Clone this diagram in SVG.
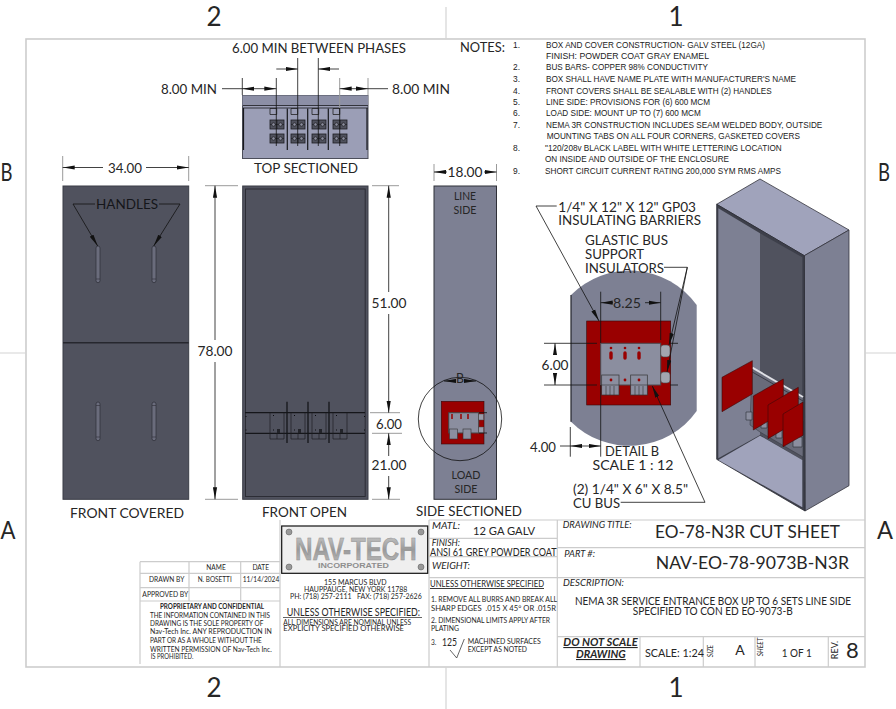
<svg xmlns="http://www.w3.org/2000/svg" width="896" height="709" viewBox="0 0 896 709">
<style>
text{font-family:"Lato","Open Sans","Liberation Sans",sans-serif;fill:#262626}
.l{font-size:14px}.m{font-size:11px}.s{font-size:9px}.xs{font-size:6.6px}.n{font-family:"Liberation Sans",Arial,sans-serif;font-size:8.4px;fill:#222}
.i{font-style:italic}.c{text-anchor:middle}
.dim{stroke:#111;stroke-width:.8;fill:none}
.arr{marker-end:url(#a)}
.ext{stroke:#9a9a9a;stroke-width:1;fill:none}
.bk{stroke:#111;stroke-width:.8;fill:none}
.grid{stroke:#ccc;stroke-width:1.2;fill:none}
.hv{fill:#50525e;stroke:#3a3c46;stroke-width:1}
.hd{fill:#6a6c7c;stroke:#2d2e36;stroke-width:.7}
.red{fill:#990000;stroke:#3a0808;stroke-width:.6}
</style>
<defs>
<marker id="a" viewBox="0 0 12 5" refX="12" refY="2.5" markerWidth="12" markerHeight="5" markerUnits="userSpaceOnUse" orient="auto"><path d="M0 .4L12 2.500L0 4.600z" fill="#111"/></marker>
<linearGradient id="sil" x1="0" y1="0" x2="0" y2="1"><stop offset="0" stop-color="#cfcfcf"/><stop offset=".5" stop-color="#9a9a9a"/><stop offset="1" stop-color="#c0c0c0"/></linearGradient>
<g id="lug"><rect x="0" y="0" width="14" height="9" fill="#50525e" stroke="#1c1d22" stroke-width=".8"/><path d="M7 0V9M0 4.500H14" stroke="#1c1d22" stroke-width=".7"/><circle cx="3.500" cy="4.500" r="1.700" fill="#8b8e9f" stroke="#111" stroke-width=".6"/><circle cx="10.500" cy="4.500" r="1.700" fill="#8b8e9f" stroke="#111" stroke-width=".6"/></g>
</defs>
<rect width="896" height="709" fill="#fff"/>
<g id="sheet-frame">
<rect x="26" y="39" width="839" height="628" fill="none" stroke="#cdcdcd" stroke-width="1.6"/>
<path d="M446 7V39M446 667V709M0 353H26M865 353H896" stroke="#d4d4d4" stroke-width="1.2" fill="none"/>
<text x="214" y="26" font-size="26" class="c">2</text><text x="676" y="26" font-size="26" class="c">1</text>
<text x="214" y="697" font-size="26" class="c">2</text><text x="676" y="697" font-size="26" class="c">1</text>
<text x="0.500" y="181" font-size="25" textLength="12" lengthAdjust="spacingAndGlyphs">B</text><text x="878" y="181" font-size="25" textLength="12" lengthAdjust="spacingAndGlyphs">B</text>
<text x="0.500" y="539" font-size="25" textLength="15" lengthAdjust="spacingAndGlyphs">A</text><text x="877" y="539" font-size="25" textLength="16" lengthAdjust="spacingAndGlyphs">A</text>
</g>
<g id="view-top-sectioned">
<rect x="242.500" y="95.500" width="125.500" height="63" fill="#9b9eb6" stroke="#4c4e5a"/>
<rect x="242.500" y="95.500" width="125.500" height="10" fill="#8c8fa6" stroke="none"/>
<path d="M243 105.500H368M243 108H368" stroke="#33343c" fill="none"/>
<path d="M243.500 108V150M367 108V150M287.300 108.500V150M307.700 108.500V150M328.300 108.500V150" stroke="#17181c" stroke-width="1.200" fill="none"/>
<path d="M270 108.500h6.700v6h-6.700zM291 108.500h6.700v6h-6.700zM312 108.500h6.700v6h-6.700zM333 108.500h6.700v6h-6.700z" fill="none" stroke="#222" stroke-width=".8"/>
<use href="#lug" x="270" y="120"/><use href="#lug" x="270" y="134"/><use href="#lug" x="291" y="120"/><use href="#lug" x="291" y="134"/><use href="#lug" x="312" y="120"/><use href="#lug" x="312" y="134"/><use href="#lug" x="333" y="120"/><use href="#lug" x="333" y="134"/>
<text x="254" y="173" class="l" textLength="104" lengthAdjust="spacingAndGlyphs">TOP SECTIONED</text>
</g>
<g id="view-front-covered">
<rect x="63" y="186" width="125.700" height="313.300" class="hv"/>
<path d="M63 342.700H188.700" stroke="#26272e" stroke-width="1.400"/>
<rect x="96" y="246" width="4" height="36.700" rx="2" class="hd"/><rect x="152" y="246" width="4" height="36.700" rx="2" class="hd"/>
<rect x="96" y="402" width="4" height="38.700" rx="2" class="hd"/><rect x="152" y="402" width="4" height="38.700" rx="2" class="hd"/>
<path d="M96 279H100M152 279H156M96 405.500H100M152 405.500H156M96 437H100M152 437H156" stroke="#2d2e36" stroke-width=".6"/>
<text x="70" y="518" class="l" textLength="114" lengthAdjust="spacingAndGlyphs">FRONT COVERED</text>
<text x="96" y="209" class="l" textLength="62" lengthAdjust="spacingAndGlyphs" style="fill:#15161a">HANDLES</text>
</g>
<g id="view-front-open">
<rect x="242.700" y="186" width="125.300" height="313.300" class="hv"/>
<rect x="245.500" y="189" width="119.700" height="307.500" fill="none" stroke="#2c2d35" stroke-width="1"/>
<path d="M245 412.700H365M245 433.300H365" stroke="#15161a" stroke-width="1.300" fill="none"/>
<path d="M287 401.700V443M308 401.700V443M329 401.700V443" stroke="#15161a" stroke-width="1.300" fill="none"/>
<path d="M270 412.700V439H284V412.700M277 433V439M291 412.700V439H305V412.700M298 433V439M312 412.700V439H326V412.700M319 433V439M333 412.700V439H347V412.700M340 433V439" fill="none" stroke="#1c1d22" stroke-width=".7"/>
<path d="M277 429h3v4h-3zM298 429h3v4h-3zM319 429h3v4h-3zM340 429h3v4h-3z" fill="#23242a"/>
<path d="M273 415h1v1h-1zM273 429.500h1v1h-1zM294 415h1v1h-1zM294 429.500h1v1h-1zM315 415h1v1h-1zM315 429.500h1v1h-1zM336 415h1v1h-1zM336 429.500h1v1h-1zM245.500 416h1v1h-1zM245.500 429.500h1v1h-1zM364 416h1v1h-1zM364 429.500h1v1h-1z" fill="#0c0c10"/>
<text x="262" y="517" class="l" textLength="85" lengthAdjust="spacingAndGlyphs">FRONT OPEN</text>
</g>
<g id="view-side-sectioned">
<rect x="434" y="186" width="62.500" height="313.300" fill="#7d8093" stroke="#2f3038" stroke-width="1"/>
<text x="465" y="200" class="m c" textLength="22" lengthAdjust="spacingAndGlyphs">LINE</text>
<text x="465" y="214" class="m c" textLength="23" lengthAdjust="spacingAndGlyphs">SIDE</text>
<text x="466" y="479" class="m c" textLength="29" lengthAdjust="spacingAndGlyphs">LOAD</text>
<text x="466" y="493" class="m c" textLength="23" lengthAdjust="spacingAndGlyphs">SIDE</text>
<rect x="441.300" y="401.300" width="42.700" height="42.700" class="red"/>
<rect x="448.700" y="412.700" width="30" height="20.300" fill="#8b8e9f" stroke="#444"/>
<path d="M452 414v5M461 414v5M468 414v5" stroke="#990000" stroke-width="1.500" fill="none"/>
<rect x="449.500" y="429" width="8" height="10" fill="#8b8e9f" stroke="#333" stroke-width=".6"/><rect x="463" y="429" width="8" height="10" fill="#8b8e9f" stroke="#333" stroke-width=".6"/>
<rect x="478.700" y="414" width="5" height="6" fill="#9a9cab" stroke="#444" stroke-width=".5"/><rect x="478.700" y="427" width="5" height="6" fill="#9a9cab" stroke="#444" stroke-width=".5"/>
<path d="M479 412.700H487M479 433H487" stroke="#111" stroke-width=".8"/>
<circle cx="460" cy="419" r="41.700" fill="none" stroke="#111" stroke-width=".8"/>
<text x="416" y="516" class="l" textLength="106" lengthAdjust="spacingAndGlyphs">SIDE SECTIONED</text>
<text x="460" y="383" class="l c" textLength="8" lengthAdjust="spacingAndGlyphs">B</text>
</g>
<g id="view-detail-b">
<path d="M571 295A82.500 82.500 0 0 1 696.700 305V411A82.500 82.500 0 0 1 571 421.700Z" fill="#7d8093"/>
<path d="M571 295V421.700" stroke="#22232a" stroke-width="1.200"/>
<rect x="586.700" y="321" width="84" height="84" fill="#990000" stroke="#3a0808" stroke-width=".6"/>
<rect x="600.700" y="343.300" width="60" height="41.700" fill="#8b8e9f" stroke="#4a4a50"/>
<path d="M611 353V358M625 353V358M639 353V358" stroke="#990000" stroke-width="3.400" stroke-linecap="round"/>
<circle cx="611" cy="348" r="1.300" fill="#990000"/><circle cx="625" cy="348" r="1.300" fill="#990000"/><circle cx="639" cy="348" r="1.300" fill="#990000"/>
<rect x="601.700" y="375" width="17.300" height="20" fill="#8b8e9f" stroke="#333" stroke-width=".7"/><rect x="630.700" y="375" width="16.600" height="20" fill="#8b8e9f" stroke="#333" stroke-width=".7"/>
<path d="M601.700 385H619M630.700 385H647.300M606 386V395M610 386V395M614 386V395M635 386V395M639 386V395M643 386V395" stroke="#333" stroke-width=".6"/>
<circle cx="611" cy="380" r="1.400" fill="#990000"/><circle cx="625" cy="380" r="1.400" fill="#990000"/><circle cx="639" cy="380" r="1.400" fill="#990000"/>
<rect x="660.700" y="345" width="9.300" height="12" rx="3" fill="#a3a6b0" stroke="#444" stroke-width=".6"/>
<rect x="660.700" y="372" width="9.300" height="11" rx="3" fill="#a3a6b0" stroke="#444" stroke-width=".6"/>
<text x="558.300" y="211.500" class="l" textLength="137.700" lengthAdjust="spacingAndGlyphs">1/4" X 12" X 12" GP03</text>
<text x="558.300" y="225" class="l" textLength="142.700" lengthAdjust="spacingAndGlyphs">INSULATING BARRIERS</text>
<text x="585" y="245" class="l" textLength="83" lengthAdjust="spacingAndGlyphs">GLASTIC BUS</text>
<text x="585" y="259" class="l" textLength="59" lengthAdjust="spacingAndGlyphs">SUPPORT</text>
<text x="585" y="273" class="l" textLength="79" lengthAdjust="spacingAndGlyphs">INSULATORS</text>
<text x="632" y="456" class="l c" textLength="54" lengthAdjust="spacingAndGlyphs">DETAIL B</text>
<text x="633" y="470" class="l c" textLength="81" lengthAdjust="spacingAndGlyphs">SCALE 1 : 12</text>
<text x="573" y="494" class="l" textLength="115" lengthAdjust="spacingAndGlyphs">(2) 1/4" X 6" X 8.5"</text>
<text x="573" y="508" class="l" textLength="47" lengthAdjust="spacingAndGlyphs">CU BUS</text>
</g>
<g id="view-isometric">
<path d="M716.700 204.300L760 179L849 230L804.300 255.700Z" fill="#a0a3bb" stroke="#33343c" stroke-width=".8"/>
<path d="M804.300 255.700L849 230V485.700L805 511Z" fill="#7d8093" stroke="#33343c" stroke-width=".8"/>
<path d="M716.700 204.300L804.300 255.700L805 511L716.700 459.300Z" fill="#3d3f4a" stroke="#2a2b33" stroke-width=".8"/>
<path d="M718.300 208.300L760 233.300V435L718.300 458.300Z" fill="#7d8093"/>
<path d="M760 233.300L802.300 257.300V460L760 435Z" fill="#50525e"/>
<path d="M718.300 460L760 435.700L802.300 460V507.300Z" fill="#a0a3bb"/>
<path d="M752 368L803 397V457L760 432L750 425Z" fill="#696b7a" stroke="#33343c" stroke-width=".5"/>
<path d="M752.300 367.700L803 397" stroke="#dfe0e6" stroke-width="2" fill="none"/>
<path d="M752.300 372L803 401" stroke="#30313a" stroke-width=".8" fill="none"/>
<path d="M746 412h6v8h-6zM761 420h6v8h-6zM776 430h6v8h-6zM793 437h9v10h-9zM796 421h7v14h-7z" fill="#8b8e9f" stroke="#2a2b33" stroke-width=".6"/>
<path d="M722 377.300L752.300 360.700V394L722 411.700Z" class="red"/>
<path d="M753.300 396L783.300 379V412.300L753.300 430Z" class="red"/>
<path d="M768 405L798.300 387.300V420.700L768 438.700Z" class="red"/>
<path d="M783 414L803 402V435.300L783 446.700Z" class="red"/>
</g>
<g id="title-block">
<path class="grid" d="M429 520H865M557.300 520V667M429 520V667M429 538.300H557.300M429 556.700H557.300M557.300 547.700H865M429 577.700H865M557.300 636.700H865M640 636.700V667M703.300 636.700V667M755 636.700V667M828.300 636.700V667"/>
<path class="grid" d="M140 561.700H280M140 573.300H280M140 587.700H280M140 601H280M140 561.700V664M189 561.700V601M240.700 561.700V601M280 520V667"/>
<text x="216" y="570" class="xs c">NAME</text><text x="260.700" y="570" class="xs c">DATE</text>
<text x="149" y="582" class="xs" textLength="35.300" lengthAdjust="spacingAndGlyphs">DRAWN BY</text>
<text x="197.700" y="582" class="xs" textLength="34" lengthAdjust="spacingAndGlyphs">N. BOSETTI</text>
<text x="242.700" y="582" class="xs" textLength="36.600" lengthAdjust="spacingAndGlyphs">11/14/2024</text>
<text x="142.300" y="596.500" class="xs" textLength="46" lengthAdjust="spacingAndGlyphs">APPROVED BY</text>
<text x="160" y="609" class="xs" font-weight="700" textLength="104" lengthAdjust="spacingAndGlyphs">PROPRIETARY AND CONFIDENTIAL</text>
<text x="150" y="618" class="xs" textLength="120" lengthAdjust="spacingAndGlyphs">THE INFORMATION CONTAINED IN THIS</text>
<text x="150" y="626" class="xs" textLength="113.300" lengthAdjust="spacingAndGlyphs">DRAWING IS THE SOLE PROPERTY OF</text>
<text x="150" y="634" class="xs" textLength="121.700" lengthAdjust="spacingAndGlyphs">Nav-Tech Inc.  ANY REPRODUCTION IN</text>
<text x="150" y="643" class="xs" textLength="111.700" lengthAdjust="spacingAndGlyphs">PART OR AS A WHOLE WITHOUT THE</text>
<text x="150" y="651.500" class="xs" textLength="121.700" lengthAdjust="spacingAndGlyphs">WRITTEN PERMISSION OF Nav-Tech Inc.</text>
<text x="150.700" y="659" class="xs" textLength="42.600" lengthAdjust="spacingAndGlyphs">IS PROHIBITED.</text>
<rect x="281.700" y="526" width="146" height="47.300" fill="#efefef" stroke="#111" stroke-width="1.200"/>
<text x="295" y="560" font-size="31" font-weight="700" textLength="121.700" lengthAdjust="spacingAndGlyphs" style="font-family:'Liberation Sans',Arial,sans-serif;fill:url(#sil);stroke:#8e8e8e;stroke-width:.5">NAV-TECH</text>
<text x="318" y="567.500" font-size="8" font-weight="700" textLength="71" lengthAdjust="spacingAndGlyphs" style="font-family:'Liberation Sans',Arial,sans-serif;fill:#8e8e8e">INCORPORATED</text>
<circle cx="289" cy="532" r="3" fill="#999" stroke="#555" stroke-width=".5"/><circle cx="421" cy="532" r="3" fill="#999" stroke="#555" stroke-width=".5"/><circle cx="289" cy="567" r="3" fill="#999" stroke="#555" stroke-width=".5"/><circle cx="421" cy="567" r="3" fill="#999" stroke="#555" stroke-width=".5"/>
<text x="324" y="584.500" class="xs" textLength="62.700" lengthAdjust="spacingAndGlyphs">155 MARCUS BLVD</text>
<text x="304" y="591.500" class="xs" textLength="103.300" lengthAdjust="spacingAndGlyphs">HAUPPAUGE, NEW YORK 11788</text>
<text x="290" y="599" class="xs" textLength="131.700" lengthAdjust="spacingAndGlyphs" xml:space="preserve">PH: (718) 257-2111   FAX: (718) 257-2626</text>
<text x="286.700" y="616" class="m" textLength="133.300" lengthAdjust="spacingAndGlyphs">UNLESS OTHERWISE SPECIFIED:</text>
<path d="M283 617.500H422" stroke="#222" stroke-width=".7"/>
<text x="283.300" y="625" class="xs" textLength="127.700" lengthAdjust="spacingAndGlyphs">ALL DIMENSIONS ARE NOMINAL UNLESS</text>
<text x="283.300" y="631" class="xs" textLength="120.700" lengthAdjust="spacingAndGlyphs">EXPLICITY SPECIFIED OTHERWISE</text>
<text x="432" y="529" class="s i" textLength="28" lengthAdjust="spacingAndGlyphs">MATL:</text>
<text x="473" y="534.500" class="m" textLength="62" lengthAdjust="spacingAndGlyphs">12 GA GALV</text>
<text x="431.700" y="545.500" class="s i" textLength="28.300" lengthAdjust="spacingAndGlyphs">FINISH:</text>
<text x="430" y="555.500" font-size="10.500" textLength="126.700" lengthAdjust="spacingAndGlyphs">ANSI 61 GREY POWDER COAT</text>
<text x="432" y="569" class="s i" textLength="38" lengthAdjust="spacingAndGlyphs">WEIGHT:</text>
<text x="430" y="587" class="s" text-decoration="underline" textLength="114" lengthAdjust="spacingAndGlyphs">UNLESS OTHERWISE SPECIFIED</text>
<text x="431" y="601.500" class="xs" textLength="126" lengthAdjust="spacingAndGlyphs">1. REMOVE ALL BURRS AND BREAK ALL</text>
<text x="431" y="610.500" class="xs" textLength="125" lengthAdjust="spacingAndGlyphs" xml:space="preserve">SHARP EDGES  .015 X 45° OR .015R</text>
<text x="431" y="623" class="xs" textLength="119" lengthAdjust="spacingAndGlyphs">2. DIMENSIONAL LIMITS APPLY AFTER</text>
<text x="431" y="630.500" class="xs" textLength="28" lengthAdjust="spacingAndGlyphs">PLATING</text>
<text x="431" y="644.500" class="xs">3.</text>
<text x="442" y="646" class="m" textLength="15" lengthAdjust="spacingAndGlyphs">125</text>
<path d="M450 650L456.700 658L464.300 639" fill="none" stroke="#222" stroke-width=".7"/>
<text x="467.700" y="643.500" class="xs" textLength="73" lengthAdjust="spacingAndGlyphs">MACHINED SURFACES</text>
<text x="467.700" y="651.500" class="xs" textLength="59.300" lengthAdjust="spacingAndGlyphs">EXCEPT AS NOTED</text>
<text x="562.700" y="528" class="s i" textLength="69" lengthAdjust="spacingAndGlyphs">DRAWING TITLE:</text>
<text x="655" y="537.500" font-size="18" textLength="185" lengthAdjust="spacingAndGlyphs">EO-78-N3R CUT SHEET</text>
<text x="564.300" y="557" class="s i" textLength="30.700" lengthAdjust="spacingAndGlyphs">PART #:</text>
<text x="655.700" y="568.500" font-size="18" textLength="193.300" lengthAdjust="spacingAndGlyphs">NAV-EO-78-9073B-N3R</text>
<text x="563" y="586" class="s i" textLength="61" lengthAdjust="spacingAndGlyphs">DESCRIPTION:</text>
<text x="575" y="604.500" class="m" textLength="276" lengthAdjust="spacingAndGlyphs">NEMA 3R SERVICE ENTRANCE BOX UP TO 6 SETS LINE SIDE</text>
<text x="632.700" y="615" class="m" textLength="160" lengthAdjust="spacingAndGlyphs">SPECIFIED TO CON ED EO-9073-B</text>
<text x="563.300" y="646" font-size="11" font-weight="700" font-style="italic" text-decoration="underline" textLength="74.400" lengthAdjust="spacingAndGlyphs">DO NOT SCALE</text>
<text x="576" y="658" font-size="11" font-weight="700" font-style="italic" text-decoration="underline" textLength="49.700" lengthAdjust="spacingAndGlyphs">DRAWING</text>
<text x="645" y="657" class="m" textLength="59" lengthAdjust="spacingAndGlyphs">SCALE: 1:24</text>
<text transform="translate(713 651) rotate(-90)" class="xs i c">SIZE</text>
<text x="740" y="655" class="l c">A</text>
<text transform="translate(763 647) rotate(-90)" class="xs i c">SHEET</text>
<text x="781.700" y="657" class="m" textLength="30" lengthAdjust="spacingAndGlyphs">1 OF 1</text>
<text transform="translate(838 650) rotate(-90)" class="s c">REV.</text>
<text x="852.300" y="658" font-size="22" class="c">8</text>
</g>
<g id="notes">
<text x="460" y="52" class="l" textLength="45" lengthAdjust="spacingAndGlyphs">NOTES:</text>
<text class="n" x="513" y="48">1.</text><text class="n" x="546" y="48" textLength="219" lengthAdjust="spacingAndGlyphs">BOX AND COVER CONSTRUCTION- GALV STEEL (12GA)</text>
<text class="n" x="546" y="59" textLength="163" lengthAdjust="spacingAndGlyphs">FINISH: POWDER COAT GRAY ENAMEL</text>
<text class="n" x="513" y="70">2.</text><text class="n" x="546" y="70" textLength="162" lengthAdjust="spacingAndGlyphs">BUS BARS- COPPER 98% CONDUCTIVITY</text>
<text class="n" x="513" y="82">3.</text><text class="n" x="546" y="82" textLength="250" lengthAdjust="spacingAndGlyphs">BOX SHALL HAVE NAME PLATE WITH MANUFACTURER'S NAME</text>
<text class="n" x="513" y="93.500">4.</text><text class="n" x="546" y="93.500" textLength="225.700" lengthAdjust="spacingAndGlyphs">FRONT COVERS SHALL BE SEALABLE WITH (2) HANDLES</text>
<text class="n" x="513" y="105">5.</text><text class="n" x="546" y="105" textLength="164" lengthAdjust="spacingAndGlyphs">LINE SIDE: PROVISIONS FOR (6) 600 MCM</text>
<text class="n" x="513" y="116">6.</text><text class="n" x="546" y="116" textLength="154.700" lengthAdjust="spacingAndGlyphs">LOAD SIDE: MOUNT UP TO (7) 600 MCM</text>
<text class="n" x="513" y="128">7.</text><text class="n" x="546" y="128" textLength="276.300" lengthAdjust="spacingAndGlyphs">NEMA 3R CONSTRUCTION INCLUDES SEAM WELDED BODY, OUTSIDE</text>
<text class="n" x="546.700" y="139" textLength="253.300" lengthAdjust="spacingAndGlyphs">MOUNTING TABS ON ALL FOUR CORNERS, GASKETED COVERS</text>
<text class="n" x="513" y="151">8.</text><text class="n" x="545" y="151" textLength="236.700" lengthAdjust="spacingAndGlyphs">"120/208v BLACK LABEL WITH WHITE LETTERING LOCATION</text>
<text class="n" x="545" y="162" textLength="184" lengthAdjust="spacingAndGlyphs">ON INSIDE AND OUTSIDE OF THE ENCLOSURE</text>
<text class="n" x="513" y="174">9.</text><text class="n" x="545" y="174" textLength="236" lengthAdjust="spacingAndGlyphs">SHORT CIRCUIT CURRENT RATING 200,000 SYM RMS AMPS</text>
</g>
<g id="dimensions">
<path class="bk" d="M242.300 78V95M276.300 78V146M297.700 58V146M318.300 58V146M339.700 108V146"/>
<path class="ext" d="M339.700 78V108M368 78V95"/>
<path class="dim" d="M222 88.700H242.300M368 88.700H388"/>
<path class="dim arr" d="M258 88.700H242.300"/><path class="dim arr" d="M258 88.700H276.300"/>
<path class="dim arr" d="M354 88.700H339.700"/><path class="dim arr" d="M354 88.700H368"/>
<path class="dim arr" d="M276.300 69H297.700"/><path class="dim arr" d="M339 69H318.300"/>
<text x="232" y="52.500" class="l" textLength="174" lengthAdjust="spacingAndGlyphs">6.00 MIN BETWEEN PHASES</text>
<text x="161" y="94" class="l" textLength="56" lengthAdjust="spacingAndGlyphs">8.00 MIN</text>
<text x="392" y="94" class="l" textLength="58" lengthAdjust="spacingAndGlyphs">8.00 MIN</text>
<path class="ext" d="M62.700 156V181M188.700 156V181M205 185.700H238M205 499.300H238M372 185.700H399M370 412.700H400M372 433.300H402M372 499.300H400M434 164V181M496.500 164V181"/>
<path class="dim arr" d="M103 167.500H62.700"/><path class="dim arr" d="M146 167.500H188.700"/>
<text x="125" y="172.500" class="l c" textLength="34" lengthAdjust="spacingAndGlyphs">34.00</text>
<path class="dim arr" d="M215 340V185.700"/><path class="dim arr" d="M215 362V499.300"/>
<text x="215" y="356" class="l c" textLength="35" lengthAdjust="spacingAndGlyphs">78.00</text>
<path class="dim arr" d="M388.700 292V185.700"/><path class="dim arr" d="M388.700 314V412.700"/>
<text x="389" y="308" class="l c" textLength="35" lengthAdjust="spacingAndGlyphs">51.00</text>
<text x="389" y="429" class="l c" textLength="26" lengthAdjust="spacingAndGlyphs">6.00</text>
<path class="dim arr" d="M388.700 456V433.300"/><path class="dim arr" d="M388.700 476V499.300"/>
<text x="389" y="470" class="l c" textLength="35" lengthAdjust="spacingAndGlyphs">21.00</text>
<path class="dim arr" d="M447 172H434"/><path class="dim arr" d="M484 172H496.500"/>
<text x="465" y="177" class="l c" textLength="35" lengthAdjust="spacingAndGlyphs">18.00</text>
<path class="bk" d="M95 204H73L97.700 246" style="marker-end:url(#a)"/><path class="bk" d="M159 204H180L153.700 246" style="marker-end:url(#a)"/>
<path class="dim arr" d="M455 381H444"/><path class="dim arr" d="M465 381H476"/>
<path class="bk" d="M556.700 206H536L599 321" style="marker-end:url(#a)"/>
<path class="bk" d="M664 267.300H687.300L669 345" style="marker-end:url(#a)"/><path class="bk" d="M687.300 267.300L667 372" style="marker-end:url(#a)"/>
<path class="bk" d="M620.700 502.300H705L652.300 386" style="marker-end:url(#a)"/>
<path class="bk" d="M600.700 291.700V343M660.700 291.700V340M544 343.300H597M544 385H597M600.700 385V456.700M570.300 427V456.700M670 343.300H678M670 385H678"/>
<path class="dim arr" d="M613 302.700H600.700"/><path class="dim arr" d="M645 302.700H660.700"/>
<text x="627" y="308" class="l c" textLength="28" lengthAdjust="spacingAndGlyphs">8.25</text>
<path class="dim arr" d="M555 354V343.300"/><path class="dim arr" d="M555 375V385"/>
<text x="555" y="370" class="l c" textLength="27" lengthAdjust="spacingAndGlyphs">6.00</text>
<path class="dim" d="M560 446H570.300"/><path class="dim arr" d="M585 446H570.300"/><path class="dim arr" d="M585 446H600.700"/>
<text x="543" y="451.500" class="l c" textLength="26" lengthAdjust="spacingAndGlyphs">4.00</text>
</g>
</svg>
